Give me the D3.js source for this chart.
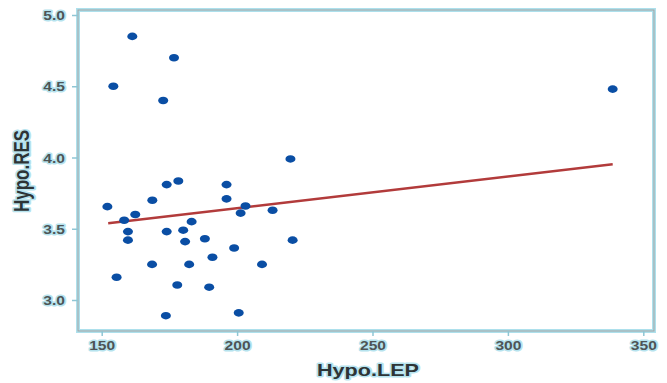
<!DOCTYPE html>
<html>
<head>
<meta charset="utf-8">
<script src="https://cdn.jsdelivr.net/npm/d3@7"></script>
<style>
  html, body { margin: 0; padding: 0; background: #fff; }
  svg { display: block; }
  .halo { paint-order: stroke; stroke: #b6e3ee; stroke-width: 3px; stroke-linejoin: round; }
</style>
</head>
<body>
<svg id="chart" width="667" height="383"></svg>
<script>
// ---- data ----
const lepValues = [161.3, 176.7, 154.3, 172.7, 338.7, 219.7, 152.1, 158.3, 162.4, 168.7,
                   174.0, 178.3, 196.1, 196.1, 203.1, 201.3, 213.1, 159.7, 159.7, 174.0,
                   180.1, 183.2, 180.8, 188.1, 198.9, 190.9, 168.6, 182.3, 209.2, 220.5,
                   155.5, 177.9, 189.7, 173.7, 200.6];
const resValues = [4.85, 4.70, 4.50, 4.40, 4.48, 3.99, 3.655, 3.56, 3.60, 3.70,
                   3.81, 3.835, 3.81, 3.71, 3.66, 3.61, 3.63, 3.48, 3.42, 3.48,
                   3.49, 3.55, 3.41, 3.43, 3.365, 3.30, 3.25, 3.25, 3.25, 3.42,
                   3.16, 3.105, 3.09, 2.89, 2.91];
const fitX = [152.4, 338.7];
const fitY = [3.538, 3.952];
const xTicks = [150, 200, 250, 300, 350];
const yTicks = [3.0, 3.5, 4.0, 4.5, 5.0];
const xTitle = "Hypo.LEP";
const yTitle = "Hypo.RES";

// ---- layout ----
const svg = d3.select("#chart");
const plot = { left: 78, right: 654, top: 10, bottom: 331 };
const x = d3.scaleLinear().domain([150, 350]).range([101.7, 643.3]);
const y = d3.scaleLinear().domain([3, 5]).range([300, 15]);

// frame
svg.append("rect")
  .attr("x", plot.left).attr("y", plot.top)
  .attr("width", plot.right - plot.left).attr("height", plot.bottom - plot.top)
  .attr("fill", "#fff").attr("stroke", "#ade0ec").attr("stroke-width", 4);
svg.append("rect")
  .attr("x", plot.left).attr("y", plot.top)
  .attr("width", plot.right - plot.left).attr("height", plot.bottom - plot.top)
  .attr("fill", "none").attr("stroke", "#a3a3a3").attr("stroke-width", 1);

// axes
const xAxis = svg.append("g")
  .attr("transform", `translate(0,${plot.bottom})`)
  .call(d3.axisBottom(x).tickValues(xTicks).tickSize(5).tickSizeOuter(0).tickFormat(d3.format("d")));
const yAxis = svg.append("g")
  .attr("transform", `translate(${plot.left},0)`)
  .call(d3.axisLeft(y).tickValues(yTicks).tickSize(6).tickSizeOuter(0).tickFormat(d3.format(".1f")));

[xAxis, yAxis].forEach(g => {
  g.select(".domain").remove();
  g.selectAll(".tick line").attr("stroke", "#8fc6d4").attr("stroke-width", 1.5);
  g.selectAll(".tick text")
    .attr("class", "halo")
    .attr("fill", "#4d5456")
    .attr("font-family", "Liberation Sans, Arial, sans-serif")
    .attr("font-weight", "bold")
    .attr("font-size", 13);
});
xAxis.selectAll(".tick text")
  .attr("y", 0).attr("dy", 0)
  .attr("transform", "translate(0,19) scale(1.2,1)");
yAxis.selectAll(".tick text")
  .attr("x", 0).attr("dy", "0.36em")
  .attr("text-anchor", "end")
  .attr("transform", "translate(-13,0) scale(1.2,1)");

// regression line
const fitData = fitX.map((v, i) => [v, fitY[i]]);
svg.append("path")
  .datum(fitData)
  .attr("d", d3.line().x(d => x(d[0])).y(d => y(d[1])))
  .attr("fill", "none")
  .attr("stroke", "#b23b3b")
  .attr("stroke-width", 2.5);

// points
svg.append("g").selectAll("ellipse")
  .data(lepValues.map((v, i) => [v, resValues[i]]))
  .join("ellipse")
  .attr("cx", d => x(d[0]))
  .attr("cy", d => y(d[1]))
  .attr("rx", 5)
  .attr("ry", 3.8)
  .attr("fill", "#0a4ea4");

// titles
svg.append("text")
  .attr("class", "halo")
  .attr("transform", `translate(368,376) scale(1.35,1)`)
  .attr("text-anchor", "middle")
  .attr("font-family", "Liberation Sans, Arial, sans-serif")
  .attr("font-weight", "bold")
  .attr("font-size", 16)
  .attr("fill", "#2e3436")
  .text(xTitle);
svg.append("text")
  .attr("class", "halo")
  .attr("transform", `translate(29,171) rotate(-90) scale(1,1.3)`)
  .attr("text-anchor", "middle")
  .attr("font-family", "Liberation Sans, Arial, sans-serif")
  .attr("font-weight", "bold")
  .attr("font-size", 17)
  .attr("fill", "#2e3436")
  .text(yTitle);
</script>
</body>
</html>
